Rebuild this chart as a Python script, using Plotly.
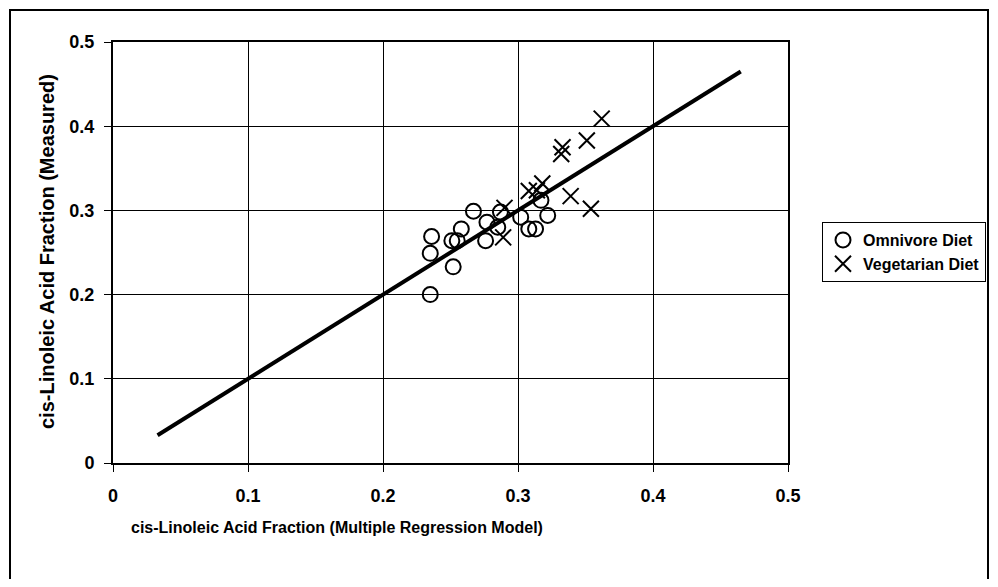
import plotly.graph_objects as go

omni_x = [0.235, 0.236, 0.235, 0.252, 0.251, 0.255, 0.258, 0.267, 0.277, 0.276, 0.287, 0.285, 0.302, 0.308, 0.313, 0.322, 0.317]
omni_y = [0.200, 0.269, 0.249, 0.233, 0.264, 0.264, 0.278, 0.299, 0.286, 0.264, 0.298, 0.280, 0.292, 0.278, 0.278, 0.294, 0.312]

veg_x = [0.362, 0.351, 0.333, 0.332, 0.318, 0.308, 0.314, 0.339, 0.354, 0.290, 0.289]
veg_y = [0.409, 0.383, 0.375, 0.367, 0.332, 0.323, 0.324, 0.317, 0.302, 0.303, 0.268]

fit_x = [0.033, 0.465]
fit_y = [0.033, 0.465]

tick_vals = [0, 0.1, 0.2, 0.3, 0.4, 0.5]
tick_text = ["0", "0.1", "0.2", "0.3", "0.4", "0.5"]

FONT = "Liberation Sans, Arial, sans-serif"

# page body has an 8px default margin; size the figure so it fits the window without scrolling
OFF = 8
FW, FH = 998 - 2 * OFF, 587 - 2 * OFF
PL, PR, PT, PB = 113, 788, 42, 463   # target plot-area edges in window pixels
PW, PH = PR - PL, PB - PT

fig = go.Figure()
fig.add_trace(go.Scatter(x=fit_x, y=fit_y, mode="lines", line=dict(color="black", width=4),
                         showlegend=False, hoverinfo="skip"))
fig.add_trace(go.Scatter(x=omni_x, y=omni_y, mode="markers", name="Omnivore Diet",
                         marker=dict(symbol="circle-open", size=15, color="black", line=dict(width=2, color="black"))))
fig.add_trace(go.Scatter(x=veg_x, y=veg_y, mode="markers", name="Vegetarian Diet",
                         marker=dict(symbol="x-thin-open", size=16, color="black", line=dict(width=2, color="black"))))

axis_common = dict(range=[0, 0.5], tickvals=tick_vals, ticktext=tick_text,
                   showgrid=True, gridcolor="black", gridwidth=1,
                   showline=True, linecolor="black", linewidth=2, mirror=True,
                   ticks="outside", ticklen=7, tickcolor="black", zeroline=False,
                   tickfont=dict(family=FONT, size=18, color="black", weight="bold"))

fig.update_xaxes(**axis_common, ticklabelstandoff=8)
fig.update_yaxes(**axis_common, ticklabelstandoff=6)

fig.add_annotation(text="<b>cis-Linoleic Acid Fraction (Multiple Regression Model)</b>",
                   xref="paper", yref="paper", x=(337 - PL) / PW, y=-(527 - PB) / PH,
                   showarrow=False, font=dict(family=FONT, size=16, color="black"),
                   xanchor="center", yanchor="middle")
fig.add_annotation(text="<b>cis-Linoleic Acid Fraction (Measured)</b>",
                   xref="paper", yref="paper", x=-(PL - 47) / PW, y=(PB - 252) / PH,
                   showarrow=False, textangle=-90, font=dict(family=FONT, size=20, color="black"),
                   xanchor="center", yanchor="middle")

# outer chart border
fig.add_shape(type="rect", xref="paper", yref="paper",
              x0=-(PL - 10) / PW, x1=(988 - PL) / PW, y0=-(640 - PB) / PH, y1=(PB - 10) / PH,
              line=dict(color="black", width=2), fillcolor="rgba(0,0,0,0)", layer="below")

fig.update_layout(
    width=FW, height=FH,
    margin=dict(l=PL - OFF, r=(998 - OFF) - PR, t=PT - OFF, b=(587 - OFF) - PB, autoexpand=False),
    paper_bgcolor="white", plot_bgcolor="white",
    legend=dict(x=(822 - PL) / PW, y=(PB - 222) / PH, xanchor="left", yanchor="top",
                bordercolor="black", borderwidth=1, bgcolor="white",
                font=dict(family=FONT, size=16, color="black", weight="bold"),
                itemwidth=30, tracegroupgap=0),
)

fig.write_html("out.html")
